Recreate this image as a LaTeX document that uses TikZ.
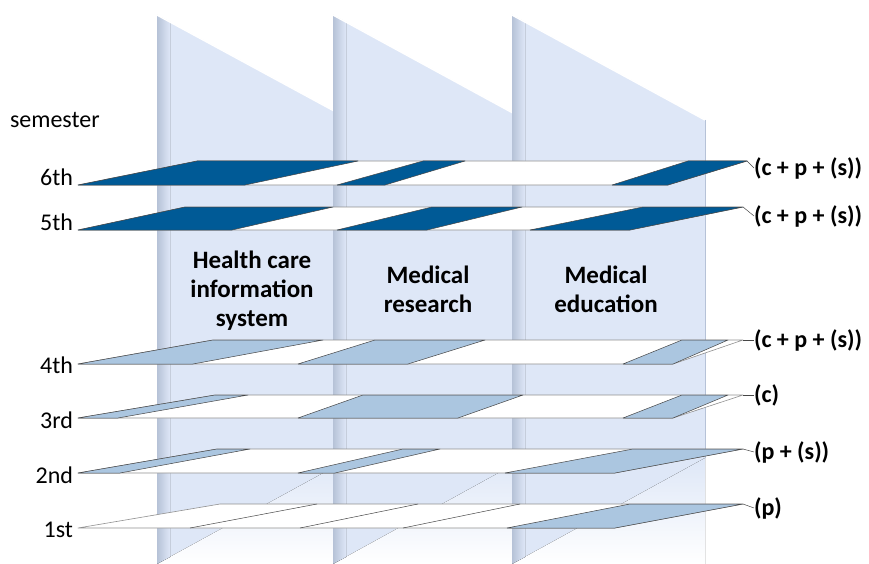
\documentclass[tikz,border=0pt]{standalone}
\usepackage{fontspec}
\setmainfont{Carlito}
\usepackage{tikz}
\usetikzlibrary{shapes,arrows}
\definecolor{hpDark}{RGB}{0,90,150}
\definecolor{hpLight}{RGB}{171,198,224}
\definecolor{hpPanel}{RGB}{222,231,247}
\definecolor{hpEdge}{RGB}{182,194,215}
\definecolor{hpLine}{RGB}{70,70,70}

\begin{document}
\begin{tikzpicture}[x=1pt, y=-1pt]%
  \tikzset{panel/.style={fill=hpPanel, draw=none},
    panel side/.style={left color=hpEdge, right color=hpPanel, draw=none},
    panel foot/.style={top color=hpPanel, bottom color=white, draw=none},
    panel rim/.style={draw=white, line width=1.5pt},
    band/.style={fill=white, draw=hpLine!60, line width=0.6pt, line join=round},
    seg dark/.style={fill=hpDark, draw=hpLine, line width=0.5pt, line join=round},
    seg light/.style={fill=hpLight, draw=hpLine, line width=0.5pt, line join=round},
    seg line/.style={draw=hpLine, line width=0.5pt},
    tag line/.style={draw=hpLine, line width=0.5pt}}
  \tikzstyle{every node}=[inner sep=0pt, outer sep=0pt, text=black]
  \tikzstyle{sem label}=[anchor=east, font=\fontsize{24}{28}\selectfont]
  \tikzstyle{tag label}=[anchor=west, font=\bfseries\fontsize{24}{28}\selectfont]
  \tikzstyle{area label}=[align=center, font=\bfseries\fontsize{25}{29}\selectfont]

  \useasboundingbox (0,0) rectangle (869,564);

  % three panels
  \fill[panel] (157,15) -- (347,118) -- (347,460) -- (157,564) -- cycle;
  \fill[panel foot] (157,564) -- (347,460) -- (347,564) -- cycle;
  \fill[panel side] (157,15) -- (170,22) -- (170,557) -- (157,564) -- cycle;
  \draw[panel rim] (157,15) -- (347,118);
  \draw[hpEdge, line width=0.6pt] (347,118) -- (347,460);

  \fill[panel] (333,15) -- (522,118) -- (522,460) -- (333,564) -- cycle;
  \fill[panel foot] (333,564) -- (522,460) -- (522,564) -- cycle;
  \fill[panel side] (333,15) -- (346,22) -- (346,557) -- (333,564) -- cycle;
  \draw[panel rim] (333,15) -- (522,118);
  \draw[hpEdge, line width=0.6pt] (522,118) -- (522,460);

  \fill[panel] (512,15) -- (705,120) -- (705,458) -- (512,564) -- cycle;
  \fill[panel foot] (512,564) -- (705,458) -- (705,564) -- cycle;
  \fill[panel side] (512,15) -- (525,22) -- (525,557) -- (512,564) -- cycle;
  \draw[panel rim] (512,15) -- (705,120);
  \draw[hpEdge, line width=0.6pt] (705,120) -- (705,458);

  % semesters, top to bottom
  \draw[band] (78,185) -- (197,161) -- (747,161) -- (668,185) -- cycle;
  \draw[seg dark] (78,185) -- (197,161) -- (358,161) -- (245,185) -- cycle;
  \draw[seg dark] (337,185) -- (423,161) -- (465,161) -- (385,185) -- cycle;
  \draw[seg dark] (612,185) -- (688,161) -- (747,161) -- (668,185) -- cycle;

  \draw[band] (78,230) -- (185,207) -- (743,207) -- (630,230) -- cycle;
  \draw[seg dark] (78,230) -- (185,207) -- (333,207) -- (232,230) -- cycle;
  \draw[seg dark] (337,230) -- (432,207) -- (522,207) -- (427,230) -- cycle;
  \draw[seg dark] (530,230) -- (643,207) -- (743,207) -- (630,230) -- cycle;

  \draw[band] (78,364) -- (213,340) -- (743,340) -- (673,364) -- cycle;
  \draw[seg light] (78,364) -- (213,340) -- (323,340) -- (193,364) -- cycle;
  \draw[seg light] (298,364) -- (375,340) -- (485,340) -- (408,364) -- cycle;
  \draw[seg light] (623,364) -- (682,340) -- (728,340) -- (673,364) -- cycle;

  \draw[band] (78,418) -- (215,395) -- (743,395) -- (673,418) -- cycle;
  \draw[seg light] (78,418) -- (215,395) -- (248,395) -- (118,418) -- cycle;
  \draw[seg light] (298,418) -- (363,395) -- (523,395) -- (458,418) -- cycle;
  \draw[seg light] (623,418) -- (682,395) -- (728,395) -- (673,418) -- cycle;

  \draw[band] (78,473) -- (217,449) -- (743,449) -- (615,473) -- cycle;
  \draw[seg light] (78,473) -- (217,449) -- (250,449) -- (120,473) -- cycle;
  \draw[seg light] (298,473) -- (403,449) -- (440,449) -- (335,473) -- cycle;
  \draw[seg light] (505,473) -- (633,449) -- (743,449) -- (615,473) -- cycle;

  \draw[band] (78,528) -- (220,504) -- (743,504) -- (615,528) -- cycle;
  \draw[seg light] (507,528) -- (630,504) -- (743,504) -- (615,528) -- cycle;
  \draw[seg line] (190,528) -- (317,504) (300,528) -- (418,504) (403,528) -- (520,504);

  \coordinate (c6) at (747,161);
  \coordinate (c5) at (743,207);
  \coordinate (c4) at (743,340);
  \coordinate (c3) at (743,395);
  \coordinate (c2) at (743,449);
  \coordinate (c1) at (743,504);

  \node[anchor=west, font=\fontsize{24}{28}\selectfont] (semester) at (10,120) {semester};
  \node[sem label] (s6) at (73,177) {6th};
  \node[sem label] (s5) at (73,222) {5th};
  \node[sem label] (s4) at (73,365) {4th};
  \node[sem label] (s3) at (73,420) {3rd};
  \node[sem label] (s2) at (73,475) {2nd};
  \node[sem label] (s1) at (73,530) {1st};

  \node[tag label] (t6) at (754,168) {(c + p + (s))};
  \node[tag label] (t5) at (754,216) {(c + p + (s))};
  \node[tag label] (t4) at (754,340) {(c + p + (s))};
  \node[tag label] (t3) at (754,395) {(c)};
  \node[tag label] (t2) at (754,452) {(p + (s))};
  \node[tag label] (t1) at (754,508) {(p)};
  \path[tag line] (c6) edge (t6.west) (c5) edge (t5.west) (c4) edge (t4.west)
    (c3) edge (t3.west) (c2) edge (t2.west) (c1) edge (t1.west);

  \node[area label] (his) at (252,291) {Health care\\information\\system};
  \node[area label] (research) at (428,289) {Medical\\research};
  \node[area label] (education) at (606,289) {Medical\\education};
\end{tikzpicture}
\end{document}
